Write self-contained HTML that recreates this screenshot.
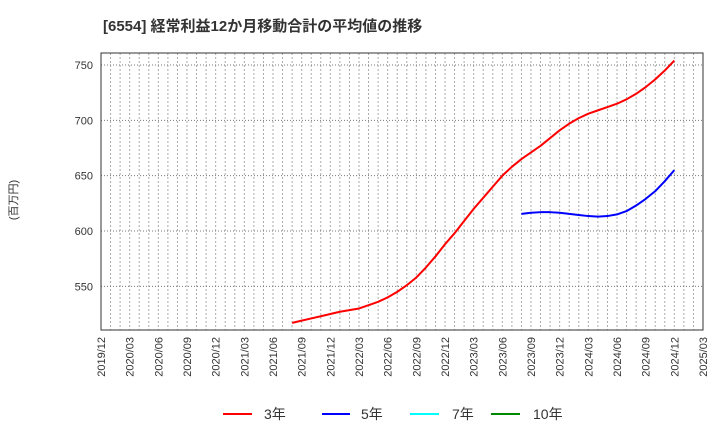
<!DOCTYPE html>
<html><head><meta charset="utf-8"><style>
body{margin:0;background:#fff;font-family:"Liberation Sans","Noto Sans CJK JP",sans-serif}
</style></head><body>
<svg id="c" width="720" height="440" xmlns="http://www.w3.org/2000/svg" font-family="Liberation Sans, Noto Sans CJK JP, sans-serif">
<text x="103" y="31" font-size="15" font-weight="bold" fill="#333">[6554]  経常利益12か月移動合計の平均値の推移</text>
<text transform="translate(17,200) rotate(-90)" text-anchor="middle" font-size="11" fill="#333">(百万円)</text>
<g id="grid"></g><g id="series"></g><g id="axes"></g>
<g font-size="14" fill="#333">
<line x1="223" y1="414" x2="252" y2="414" stroke="#f00" stroke-width="2"/><text x="264" y="419">3年</text>
<line x1="322" y1="414" x2="350" y2="414" stroke="#00f" stroke-width="2"/><text x="361" y="419">5年</text>
<line x1="410" y1="414" x2="439" y2="414" stroke="#0ff" stroke-width="2"/><text x="452" y="419">7年</text>
<line x1="491" y1="414" x2="520" y2="414" stroke="#080" stroke-width="2"/><text x="533" y="419">10年</text>
</g>
</svg>
<script>
const xLabels=["2019/12","2020/03","2020/06","2020/09","2020/12","2021/03","2021/06","2021/09","2021/12","2022/03","2022/06","2022/09","2022/12","2023/03","2023/06","2023/09","2023/12","2024/03","2024/06","2024/09","2024/12","2025/03"];
const yTicks=[550,600,650,700,750];
const red3Start=20; // months after 2019/12 (2021/08)
const red3=[517,519,521,523,525,527,528.5,530,533,536,540,545,551,558,567,577,588,598,609,620,630,640,650,658,665,671,677,684,691,697,702,706,709,712,715,719,724,730,737,745,754];
const blue5Start=44; // 2023/08
const blue5=[615.5,616.5,617,617,616.5,615.5,614.5,613.5,613,613.5,615,618,623,629,636,645,655];
const L=101,R=703,T=53,B=330,NS="http://www.w3.org/2000/svg";
const xs=m=>L+m*(R-L)/63;
const ys=v=>65+(750-v)*(231-65)/150;
function mk(p,t,a){const e=document.createElementNS(NS,t);for(const k in a)e.setAttribute(k,a[k]);p.appendChild(e);return e;}
const g=document.getElementById('grid'),ax=document.getElementById('axes'),s=document.getElementById('series');
for(let m=1;m<63;m++){const l=mk(g,'line',{x1:xs(m),x2:xs(m),y1:T,y2:B,stroke:'#aaa','stroke-dasharray':'2,2','stroke-width':1});

}
yTicks.forEach(v=>{const l=mk(g,'line',{x1:L,x2:R,y1:ys(v),y2:ys(v),stroke:'#777','stroke-dasharray':'1,2','stroke-width':1});


const t=mk(ax,'text',{x:L-8,y:ys(v)+4,'text-anchor':'end','font-size':11,fill:'#333'});t.textContent=v;

});
xLabels.forEach((lb,i)=>{const x=xs(i*3);const t=mk(ax,'text',{transform:`translate(${x+4},${B+7}) rotate(-90)`,'text-anchor':'end','font-size':11,fill:'#333'});t.textContent=lb;

});
const f=mk(ax,'rect',{x:L,y:T,width:R-L,height:B-T,fill:'none',stroke:'#333','stroke-width':1});


function line(arr,st,col,name){const p=mk(s,'polyline',{points:arr.map((v,i)=>xs(st+i)+','+ys(v)).join(' '),fill:'none',stroke:col,'stroke-width':2,'stroke-linejoin':'round'});

}
line(red3,red3Start,'#f00','line-3y');
line(blue5,blue5Start,'#00f','line-5y');
</script>
</body></html>
